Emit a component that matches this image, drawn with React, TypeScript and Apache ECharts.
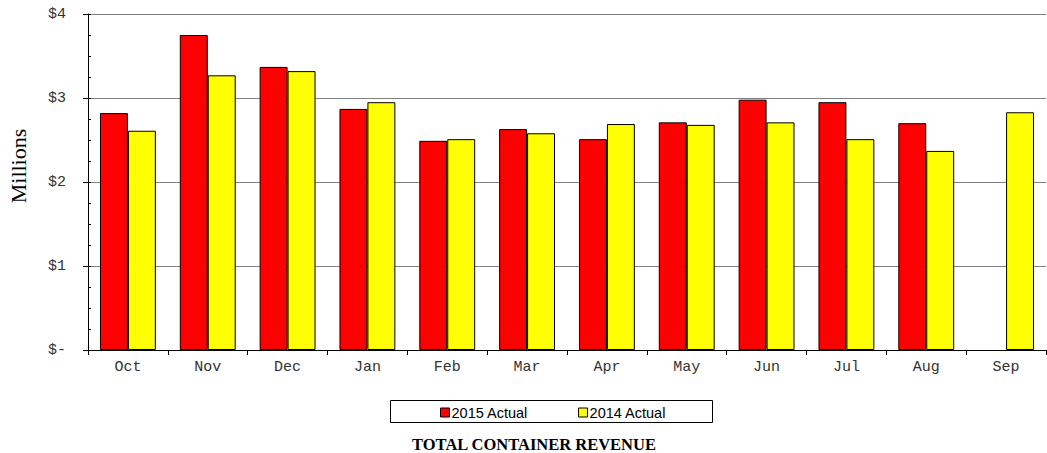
import React, { useEffect, useRef } from "react";
import * as echarts from "echarts";

const months = ["Oct", "Nov", "Dec", "Jan", "Feb", "Mar", "Apr", "May", "Jun", "Jul", "Aug", "Sep"];
const actual2015 = [2.82, 3.75, 3.37, 2.87, 2.49, 2.63, 2.51, 2.71, 2.98, 2.95, 2.70, null];
const actual2014 = [2.61, 3.27, 3.32, 2.95, 2.51, 2.58, 2.69, 2.68, 2.71, 2.51, 2.37, 2.83];
const yTickLabels: Record<string, string> = { "0": "$-", "1": "$1", "2": "$2", "3": "$3", "4": "$4" };

export default function App() {
  const ref = useRef<HTMLDivElement>(null);
  useEffect(() => {
    if (!ref.current) return;
    const chart = echarts.init(ref.current, null, { renderer: "svg" });
    chart.setOption({
      animation: false,
      backgroundColor: "#fff",
      grid: { left: 88, right: 1, top: 14, bottom: 103, containLabel: false },
      legend: {
        left: 440,
        top: 405,
        itemWidth: 9,
        itemHeight: 9,
        itemGap: 50,
        icon: "rect",
        padding: 0,
        textStyle: { fontFamily: "Liberation Sans, Arial", fontSize: 14.5, color: "#000", padding: [0, 0, 0, -3] },
        itemStyle: { borderColor: "#000", borderWidth: 1 },
        data: ["2015 Actual", "2014 Actual"],
      },
      graphic: [
        {
          type: "rect",
          shape: { x: 390.5, y: 400.5, width: 322, height: 22 },
          style: { fill: "none", stroke: "#000", lineWidth: 1 },
          z: 0,
        },
        {
          type: "text",
          x: 534,
          y: 444,
          style: {
            text: "TOTAL CONTAINER REVENUE",
            fontFamily: "Liberation Serif, Times New Roman",
            fontWeight: "bold",
            fontSize: 16.5,
            fill: "#000",
            textAlign: "center",
            textVerticalAlign: "middle",
          },
        },
        {
          type: "text",
          x: 18,
          y: 166,
          rotation: Math.PI / 2,
          style: {
            text: "Millions",
            fontFamily: "Liberation Serif, Times New Roman",
            fontSize: 22,
            fill: "#000",
            textAlign: "center",
            textVerticalAlign: "middle",
          },
        },
      ],
      xAxis: {
        type: "category",
        data: months,
        axisLine: { lineStyle: { color: "#000", width: 1 } },
        axisTick: { show: true, length: 5, lineStyle: { color: "#000" } },
        axisLabel: { fontFamily: "Liberation Mono, Courier New", fontSize: 15, color: "#333", margin: 10 },
      },
      yAxis: [
        {
          type: "value",
          min: 0,
          max: 4,
          interval: 1,
          axisLine: { show: true, lineStyle: { color: "#000", width: 1 } },
          axisTick: { show: true, length: 5, lineStyle: { color: "#000" } },
          axisLabel: {
            fontFamily: "Liberation Mono, Courier New",
            fontSize: 15,
            color: "#333",
            margin: 22,
            formatter: (v: number) => yTickLabels[String(v)] ?? "",
          },
          splitLine: { show: true, lineStyle: { color: "#808080", width: 1 } },
        },
        {
          type: "value",
          min: 0,
          max: 4,
          interval: 0.25,
          position: "left",
          offset: 0,
          axisLine: { show: false },
          axisTick: { show: true, inside: true, length: 3, lineStyle: { color: "#000" } },
          axisLabel: { show: false },
          splitLine: { show: false },
        },
      ],
      series: [
        {
          name: "2015 Actual",
          type: "bar",
          data: actual2015,
          barGap: "0%",
          barCategoryGap: "30%",
          itemStyle: { color: "#ff0000", borderColor: "#000", borderWidth: 1 },
        },
        {
          name: "2014 Actual",
          type: "bar",
          data: actual2014,
          barGap: "0%",
          barCategoryGap: "30%",
          itemStyle: { color: "#ffff00", borderColor: "#000", borderWidth: 1 },
        },
      ],
    });
    return () => chart.dispose();
  }, []);
  return <div ref={ref} style={{ position: "fixed", left: 0, top: 0, width: 1047, height: 453 }} />;
}
